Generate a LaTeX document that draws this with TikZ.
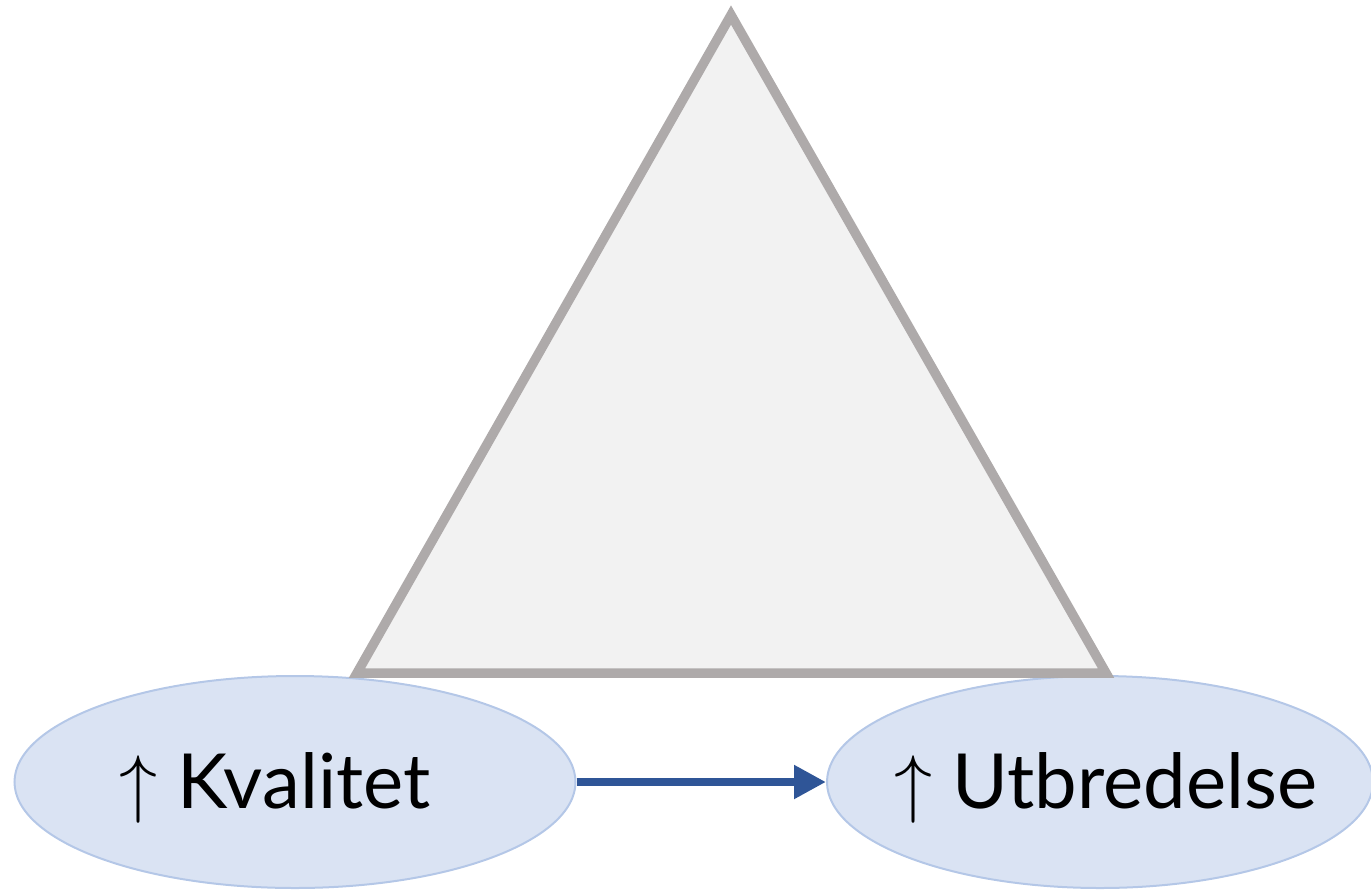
\RequirePackage{fix-cm}
\documentclass[tikz,border=0pt]{standalone}
\usepackage{fontspec}
\setmainfont{Lato}
\usetikzlibrary{arrows.meta,shapes.geometric}
\definecolor{trifill}{HTML}{F2F2F2}
\definecolor{tridraw}{HTML}{AEAAAA}
\definecolor{ellfill}{HTML}{DAE3F3}
\definecolor{elldraw}{HTML}{B4C7E7}
\definecolor{arrowblue}{HTML}{2F5597}
\tikzset{
  oval/.style={ellipse, fill=ellfill, draw=elldraw, line width=2pt, inner sep=0pt},
  lbl/.style={font=\fontsize{76}{91}\selectfont, text=black, inner sep=0pt, anchor=base},
  flow/.style={draw=arrowblue, line width=8pt, -{Triangle[length=32pt,width=32pt]}}
}
\begin{document}
\begin{tikzpicture}[x=1pt,y=-1pt]
\useasboundingbox (0,0) rectangle (1371,892);
\node[oval, minimum width=561pt, minimum height=212pt] (k) at (295,782) {};
\node[oval, minimum width=546pt, minimum height=212pt] (u) at (1100,782) {};
\coordinate (ta) at (731,15);
\coordinate (tl) at (357,673);
\coordinate (tr) at (1106,673);
\draw[fill=trifill, draw=tridraw, line width=9.5pt, miter limit=10] (ta) -- (tl) -- (tr) -- cycle;
\draw[flow] (k.east) -- (u.west);
\node[lbl] (kt) at (275,808) {$\uparrow$\hspace{0.26em}Kvalitet};
\node[lbl] (ut) at (1106,808) {$\uparrow$\hspace{0.26em}Utbredelse};
\end{tikzpicture}
\end{document}
